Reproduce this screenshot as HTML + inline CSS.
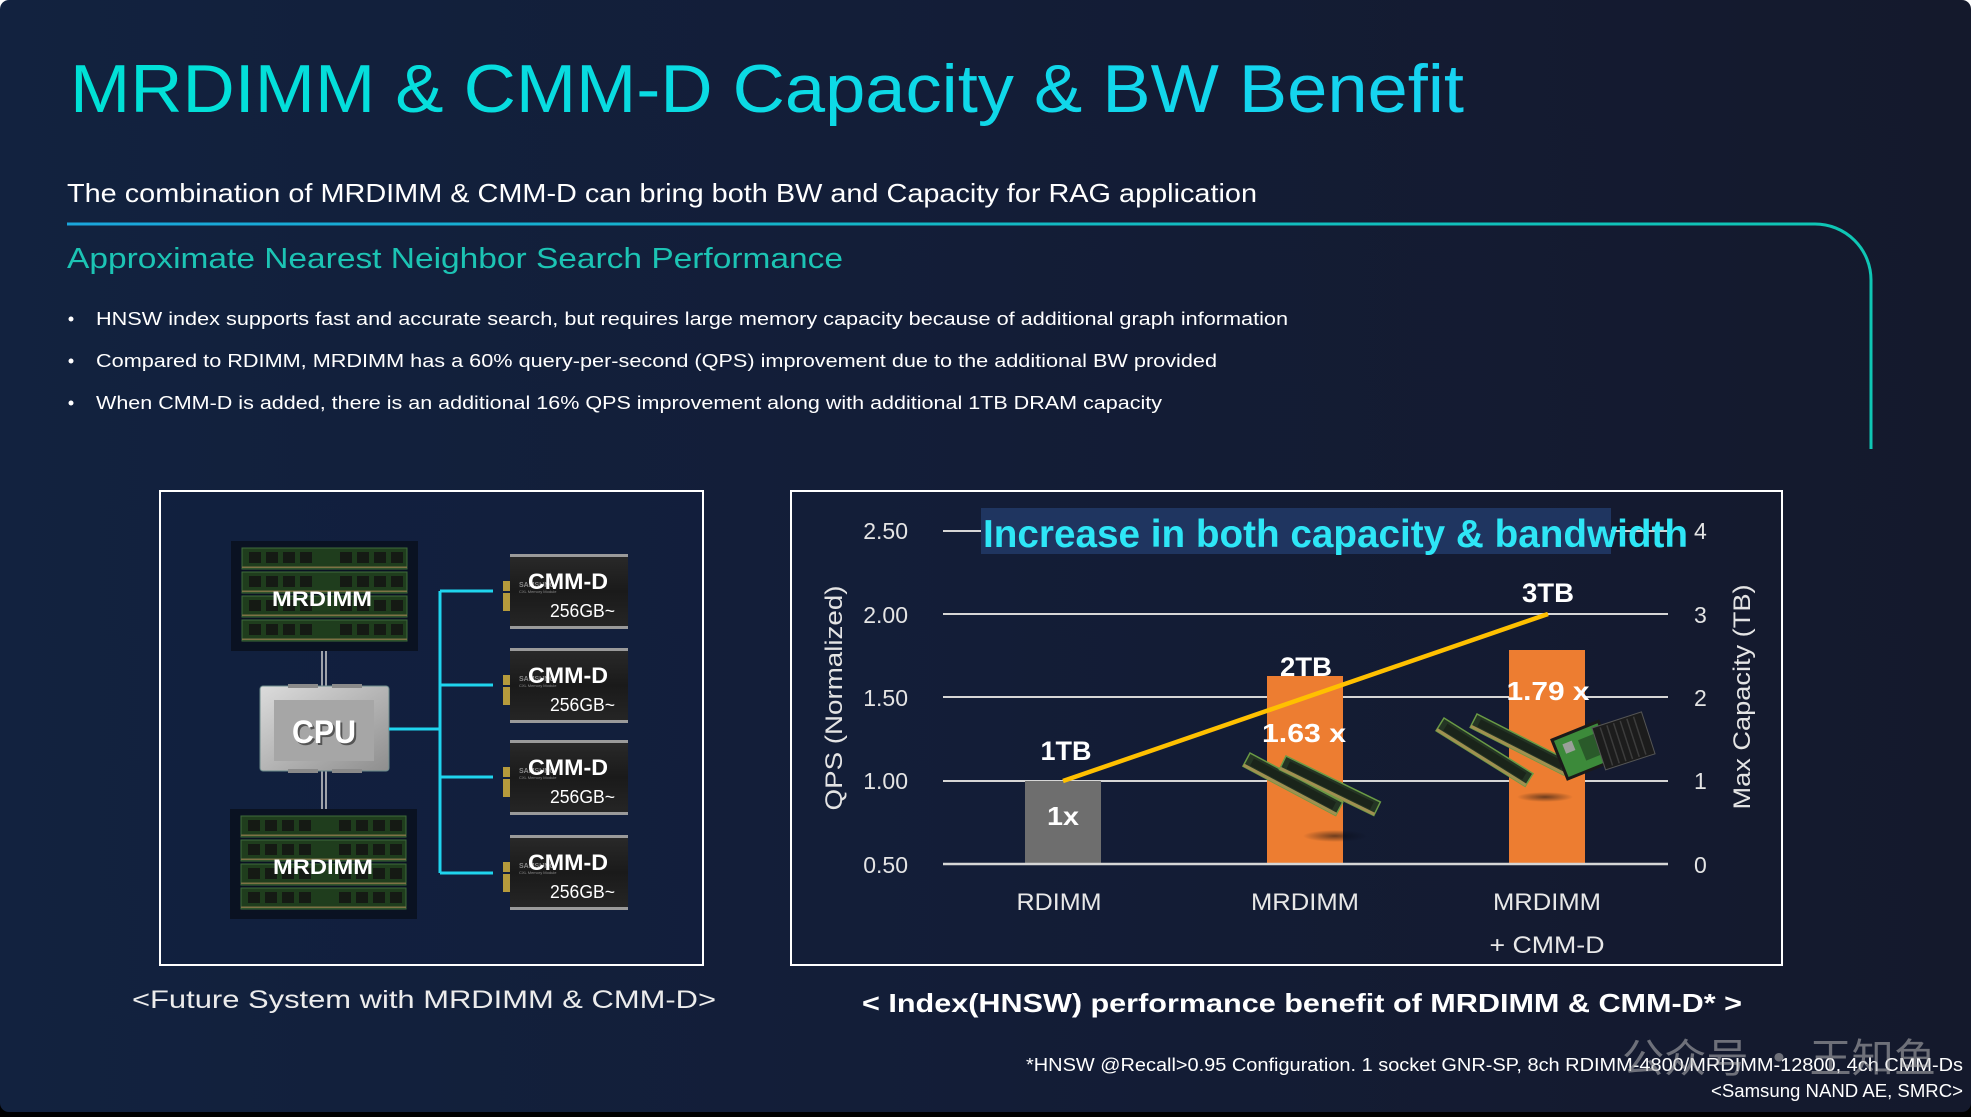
<!DOCTYPE html>
<html>
<head>
<meta charset="utf-8">
<style>
  html,body{margin:0;padding:0;background:#000;}
  svg{display:block;}
  text{font-family:"Liberation Sans","Noto Sans CJK SC",sans-serif;}
</style>
</head>
<body>
<svg width="1971" height="1117" viewBox="0 0 1971 1117" xmlns="http://www.w3.org/2000/svg">
  <defs>
    <linearGradient id="bg" x1="0" y1="0" x2="1" y2="0">
      <stop offset="0" stop-color="#12223f"/>
      <stop offset="0.5" stop-color="#131d37"/>
      <stop offset="1" stop-color="#14192c"/>
    </linearGradient>
    <linearGradient id="tg" gradientUnits="userSpaceOnUse" x1="70" y1="0" x2="1464" y2="0">
      <stop offset="0" stop-color="#00e1d6"/>
      <stop offset="1" stop-color="#17d3f2"/>
    </linearGradient>
    <linearGradient id="lg" gradientUnits="userSpaceOnUse" x1="67" y1="0" x2="1871" y2="0">
      <stop offset="0" stop-color="#1aa6dc"/>
      <stop offset="0.5" stop-color="#13b8c4"/>
      <stop offset="1" stop-color="#0fc6b4"/>
    </linearGradient>
    <linearGradient id="cpu" x1="0" y1="0" x2="1" y2="1">
      <stop offset="0" stop-color="#dcdcdc"/>
      <stop offset="0.5" stop-color="#b5b5b5"/>
      <stop offset="1" stop-color="#8e8e8e"/>
    </linearGradient>
    <linearGradient id="cmm" x1="0" y1="0" x2="0" y2="1">
      <stop offset="0" stop-color="#2a2a2a"/>
      <stop offset="0.5" stop-color="#1a1a1a"/>
      <stop offset="1" stop-color="#262626"/>
    </linearGradient>
    <radialGradient id="shadow" cx="0.5" cy="0.5" r="0.5">
      <stop offset="0" stop-color="#05080f" stop-opacity="0.55"/>
      <stop offset="1" stop-color="#05080f" stop-opacity="0"/>
    </radialGradient>
    <g id="strip">
      <rect x="0" y="0" width="165" height="21" fill="#1f3d1d" stroke="#3f6a3a" stroke-width="1"/>
      <rect x="7" y="4" width="12" height="11" fill="#151a14"/>
      <rect x="24" y="4" width="12" height="11" fill="#151a14"/>
      <rect x="41" y="4" width="12" height="11" fill="#151a14"/>
      <rect x="58" y="4" width="12" height="11" fill="#151a14"/>
      <rect x="98" y="4" width="12" height="11" fill="#151a14"/>
      <rect x="115" y="4" width="12" height="11" fill="#151a14"/>
      <rect x="132" y="4" width="12" height="11" fill="#151a14"/>
      <rect x="149" y="4" width="12" height="11" fill="#151a14"/>
      <rect x="0" y="18.5" width="165" height="1.5" fill="#7d7245"/>
    </g>
    <g id="dimmblock">
      <rect x="0" y="0" width="187" height="110" fill="#0a1222"/>
      <use href="#strip" x="11" y="7"/>
      <use href="#strip" x="11" y="31"/>
      <use href="#strip" x="11" y="55"/>
      <use href="#strip" x="11" y="79"/>
    </g>
    <g id="cmmd">
      <rect x="-7" y="27" width="7" height="10" fill="#b59a3c"/>
      <rect x="-7" y="39" width="7" height="18" fill="#b59a3c"/>
      <rect x="0" y="0" width="118" height="75" fill="url(#cmm)"/>
      <rect x="0" y="0" width="118" height="3" fill="#9a9a9a"/>
      <rect x="0" y="72" width="118" height="3" fill="#9a9a9a"/>
      <text x="9" y="33" font-size="7" font-weight="bold" fill="#8a8a8a">SAMSUNG</text>
      <text x="9" y="39" font-size="4" fill="#8a8a8a">CXL Memory Module</text>
      <text x="18" y="35" font-size="22" font-weight="bold" fill="#ffffff" textLength="80" lengthAdjust="spacingAndGlyphs">CMM-D</text>
      <text x="40" y="63" font-size="18" fill="#ffffff" textLength="65" lengthAdjust="spacingAndGlyphs">256GB~</text>
    </g>
    <g id="stick">
      <rect x="0" y="0" width="105" height="15" fill="#243524" stroke="#6a9a45" stroke-width="1.5"/>
      <rect x="6" y="3" width="93" height="8" fill="#1a241a"/>
      <rect x="0" y="12" width="105" height="3" fill="#a09050"/>
    </g>
  </defs>

  <!-- page frame -->
  <rect x="0" y="0" width="1971" height="30" fill="#ffffff"/>
  <rect x="0" y="0" width="1971" height="1112" rx="9" ry="9" fill="url(#bg)"/>

  <!-- Title -->
  <text x="70" y="112" font-size="68" fill="url(#tg)" textLength="1394" lengthAdjust="spacingAndGlyphs">MRDIMM &amp; CMM-D Capacity &amp; BW Benefit</text>

  <!-- Subtitle -->
  <text x="67" y="202" font-size="26" fill="#ffffff" textLength="1190" lengthAdjust="spacingAndGlyphs">The combination of MRDIMM &amp; CMM-D can bring both BW and Capacity for RAG application</text>

  <!-- teal line -->
  <path d="M67,224 H1815 A56,56 0 0 1 1871,280 V449" fill="none" stroke="url(#lg)" stroke-width="3"/>

  <!-- heading -->
  <text x="67" y="268" font-size="29" fill="#1cc4b4" textLength="776" lengthAdjust="spacingAndGlyphs">Approximate Nearest Neighbor Search Performance</text>

  <!-- bullets -->
  <circle cx="71" cy="319" r="2.5" fill="#ffffff"/>
  <text x="96" y="325" font-size="18.5" fill="#ffffff" textLength="1192" lengthAdjust="spacingAndGlyphs">HNSW index supports fast and accurate search, but requires large memory capacity because of additional graph information</text>
  <circle cx="71" cy="361" r="2.5" fill="#ffffff"/>
  <text x="96" y="367" font-size="18.5" fill="#ffffff" textLength="1121" lengthAdjust="spacingAndGlyphs">Compared to RDIMM, MRDIMM has a 60% query-per-second (QPS) improvement due to the additional BW provided</text>
  <circle cx="71" cy="403" r="2.5" fill="#ffffff"/>
  <text x="96" y="409" font-size="18.5" fill="#ffffff" textLength="1066" lengthAdjust="spacingAndGlyphs">When CMM-D is added, there is an additional 16% QPS improvement along with additional 1TB DRAM capacity</text>

  <!-- LEFT DIAGRAM -->
  <rect x="160" y="491" width="543" height="474" fill="#122042" fill-opacity="0.35" stroke="#ffffff" stroke-width="2"/>

  <!-- connectors DIMM-CPU -->
  <line x1="322" y1="650" x2="322" y2="686" stroke="#cfcfcf" stroke-width="1.5"/>
  <line x1="326" y1="650" x2="326" y2="686" stroke="#cfcfcf" stroke-width="1.5"/>
  <line x1="322" y1="771" x2="322" y2="809" stroke="#cfcfcf" stroke-width="1.5"/>
  <line x1="326" y1="771" x2="326" y2="809" stroke="#cfcfcf" stroke-width="1.5"/>

  <use href="#dimmblock" x="231" y="541"/>
  <text x="322" y="606" font-size="21" font-weight="bold" fill="#ffffff" text-anchor="middle" textLength="100" lengthAdjust="spacingAndGlyphs">MRDIMM</text>
  <use href="#dimmblock" x="230" y="809"/>
  <text x="323" y="874" font-size="21" font-weight="bold" fill="#ffffff" text-anchor="middle" textLength="100" lengthAdjust="spacingAndGlyphs">MRDIMM</text>

  <!-- CPU -->
  <rect x="260" y="686" width="129" height="85" rx="3" fill="url(#cpu)" stroke="#6a8a8a" stroke-width="1"/>
  <rect x="288" y="684" width="30" height="4" fill="#8a8a8a"/>
  <rect x="332" y="684" width="30" height="4" fill="#8a8a8a"/>
  <rect x="288" y="769" width="30" height="4" fill="#8a8a8a"/>
  <rect x="332" y="769" width="30" height="4" fill="#8a8a8a"/>
  <rect x="274" y="700" width="100" height="61" fill="#a6a6a6"/>
  <text x="326" y="745" font-size="32" font-weight="bold" fill="#555555" text-anchor="middle" textLength="64" lengthAdjust="spacingAndGlyphs">CPU</text>
  <text x="324" y="743" font-size="32" font-weight="bold" fill="#ffffff" text-anchor="middle" textLength="64" lengthAdjust="spacingAndGlyphs">CPU</text>

  <!-- cyan connectors -->
  <g stroke="#1fd4ee" stroke-width="3" fill="none">
    <line x1="389" y1="729" x2="440" y2="729"/>
    <line x1="440" y1="591" x2="440" y2="873"/>
    <line x1="440" y1="591" x2="493" y2="591"/>
    <line x1="440" y1="685" x2="493" y2="685"/>
    <line x1="440" y1="777" x2="493" y2="777"/>
    <line x1="440" y1="873" x2="493" y2="873"/>
  </g>

  <use href="#cmmd" x="510" y="554"/>
  <use href="#cmmd" x="510" y="648"/>
  <use href="#cmmd" x="510" y="740"/>
  <use href="#cmmd" x="510" y="835"/>

  <text x="132" y="1008" font-size="25" fill="#ececec" textLength="584" lengthAdjust="spacingAndGlyphs">&lt;Future System with MRDIMM &amp; CMM-D&gt;</text>

  <!-- RIGHT CHART -->
  <rect x="791" y="491" width="991" height="474" fill="none" stroke="#ffffff" stroke-width="2"/>

  <!-- gridlines -->
  <g stroke="#d6d6d6" stroke-width="2">
    <line x1="943" y1="531" x2="1668" y2="531"/>
    <line x1="943" y1="614" x2="1668" y2="614"/>
    <line x1="943" y1="697" x2="1668" y2="697"/>
    <line x1="943" y1="781" x2="1668" y2="781"/>
  </g>

  <!-- bars -->
  <rect x="1025" y="781" width="76" height="83" fill="#6e6e6e"/>
  <rect x="1267" y="676" width="76" height="188" fill="#ed7d31"/>
  <rect x="1509" y="650" width="76" height="214" fill="#ed7d31"/>
  <line x1="943" y1="864" x2="1668" y2="864" stroke="#d6d6d6" stroke-width="2.5"/>

  <!-- images approximation: MRDIMM sticks -->
  <ellipse cx="1335" cy="836" rx="32" ry="6" fill="url(#shadow)"/>
  <use href="#stick" transform="translate(1250,753) rotate(28)"/>
  <use href="#stick" transform="translate(1286,756) rotate(26)"/>
  <!-- MRDIMM + CMM-D images -->
  <ellipse cx="1545" cy="797" rx="28" ry="5" fill="url(#shadow)"/>
  <use href="#stick" transform="translate(1444,718) rotate(32)"/>
  <use href="#stick" transform="translate(1477,714) rotate(27)"/>
  <g transform="translate(1552,740) rotate(-22)">
    <rect x="0" y="0" width="50" height="42" fill="#3c8a3a" stroke="#1a1a1a" stroke-width="3"/>
    <rect x="8" y="8" width="10" height="10" fill="#9aa09a"/>
    <rect x="24" y="10" width="18" height="22" fill="#2a5a2a"/>
  </g>
  <g transform="translate(1592,728) rotate(-18)">
    <rect x="0" y="0" width="52" height="44" fill="#1c1c1c" stroke="#555" stroke-width="1"/>
    <g stroke="#3c3c3c" stroke-width="1.5">
      <line x1="8" y1="2" x2="8" y2="42"/><line x1="15" y1="2" x2="15" y2="42"/>
      <line x1="22" y1="2" x2="22" y2="42"/><line x1="29" y1="2" x2="29" y2="42"/>
      <line x1="36" y1="2" x2="36" y2="42"/><line x1="43" y1="2" x2="43" y2="42"/>
    </g>
  </g>

  <!-- yellow line -->
  <line x1="1063" y1="781" x2="1548" y2="614" stroke="#ffc000" stroke-width="4.5"/>

  <!-- title box -->
  <rect x="981" y="508" width="630" height="46" fill="#1f3560"/>
  <text x="983" y="547" font-size="39" font-weight="bold" fill="#2ee6f6" textLength="705" lengthAdjust="spacingAndGlyphs">Increase in both capacity &amp; bandwidth</text>

  <!-- left ticks -->
  <g font-size="23" fill="#e4e4e4" text-anchor="end">
    <text x="908" y="539">2.50</text>
    <text x="908" y="623">2.00</text>
    <text x="908" y="706">1.50</text>
    <text x="908" y="789">1.00</text>
    <text x="908" y="873">0.50</text>
  </g>
  <!-- right ticks -->
  <g font-size="23" fill="#e4e4e4">
    <text x="1694" y="539">4</text>
    <text x="1694" y="623">3</text>
    <text x="1694" y="706">2</text>
    <text x="1694" y="789">1</text>
    <text x="1694" y="873">0</text>
  </g>

  <!-- axis titles -->
  <text transform="translate(842,698) rotate(-90)" font-size="24" fill="#e4e4e4" text-anchor="middle" textLength="225" lengthAdjust="spacingAndGlyphs">QPS (Normalized)</text>
  <text transform="translate(1750,697) rotate(-90)" font-size="24" fill="#e4e4e4" text-anchor="middle" textLength="225" lengthAdjust="spacingAndGlyphs">Max Capacity (TB)</text>

  <!-- data labels -->
  <g font-weight="bold" fill="#ffffff" text-anchor="middle">
    <text x="1063" y="825" font-size="26" textLength="32" lengthAdjust="spacingAndGlyphs">1x</text>
    <text x="1304" y="742" font-size="26" textLength="84" lengthAdjust="spacingAndGlyphs">1.63 x</text>
    <text x="1548" y="700" font-size="26" textLength="83" lengthAdjust="spacingAndGlyphs">1.79 x</text>
    <text x="1066" y="760" font-size="27" textLength="51" lengthAdjust="spacingAndGlyphs">1TB</text>
    <text x="1306" y="676" font-size="27" textLength="52" lengthAdjust="spacingAndGlyphs">2TB</text>
    <text x="1548" y="602" font-size="27" textLength="52" lengthAdjust="spacingAndGlyphs">3TB</text>
  </g>

  <!-- x labels -->
  <g font-size="24" fill="#e8e8e8" text-anchor="middle">
    <text x="1059" y="910" textLength="85" lengthAdjust="spacingAndGlyphs">RDIMM</text>
    <text x="1305" y="910" textLength="108" lengthAdjust="spacingAndGlyphs">MRDIMM</text>
    <text x="1547" y="910" textLength="108" lengthAdjust="spacingAndGlyphs">MRDIMM</text>
    <text x="1547" y="953" textLength="115" lengthAdjust="spacingAndGlyphs">+ CMM-D</text>
  </g>

  <text x="862" y="1012" font-size="26" font-weight="bold" fill="#ffffff" textLength="880" lengthAdjust="spacingAndGlyphs">&lt; Index(HNSW) performance benefit of MRDIMM &amp; CMM-D* &gt;</text>

  <!-- footnotes -->
  <text x="1963" y="1071" font-size="18" fill="#ffffff" text-anchor="end" textLength="937" lengthAdjust="spacingAndGlyphs">*HNSW @Recall&gt;0.95 Configuration. 1 socket GNR-SP, 8ch RDIMM-4800/MRDIMM-12800, 4ch CMM-Ds</text>
  <text x="1963" y="1097" font-size="18" fill="#ffffff" text-anchor="end" textLength="252" lengthAdjust="spacingAndGlyphs">&lt;Samsung NAND AE, SMRC&gt;</text>

  <!-- watermark -->
  <text x="1622" y="1072" font-size="40" fill="#b8b8b8" fill-opacity="0.55" textLength="314" lengthAdjust="spacingAndGlyphs" style="font-family:'Noto Sans CJK SC',sans-serif">公众号 · 王知鱼</text>
</svg>
</body>
</html>
